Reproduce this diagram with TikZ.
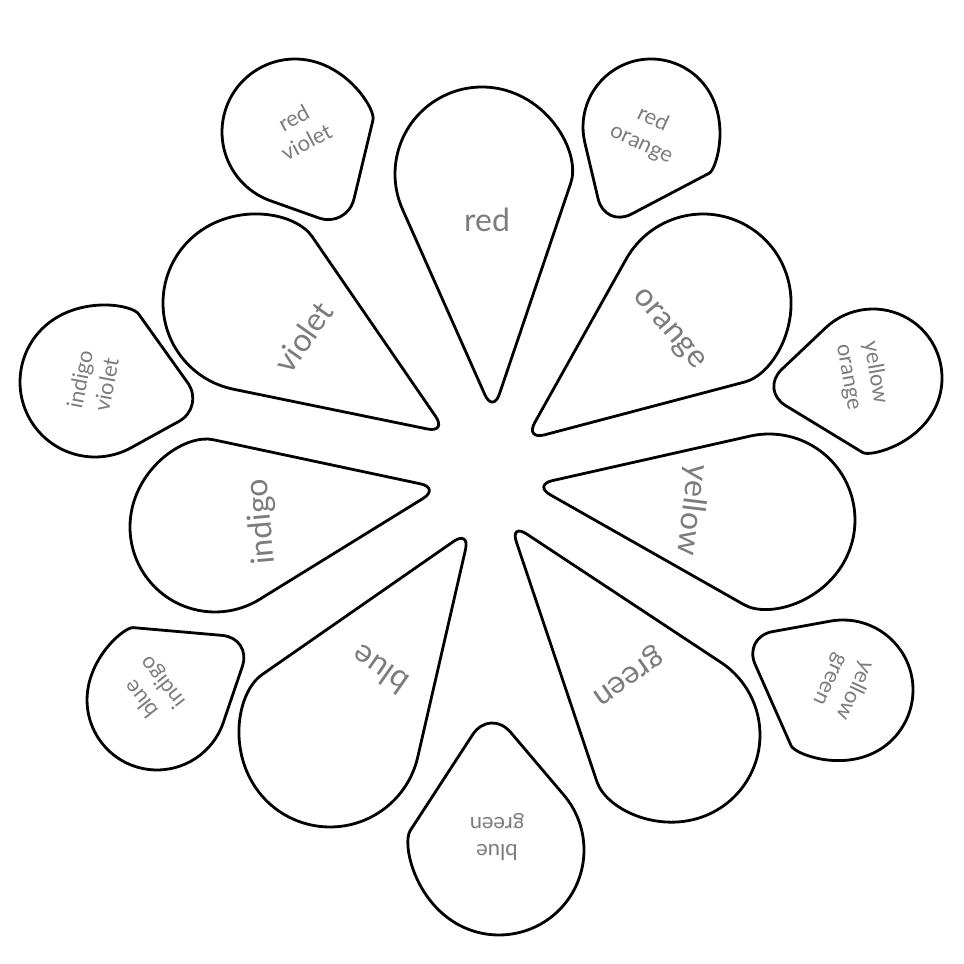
\documentclass[tikz,border=0pt]{standalone}
\usepackage{fontspec}
\setmainfont{Lato}
\definecolor{labelgray}{HTML}{7C7C7C}

\tikzset{
    petal/.style={draw=black, line width=1.4pt, line join=round},
    bigname/.style={text=labelgray, font=\fontsize{16}{19}\selectfont, inner sep=0pt},
    smallname/.style={text=labelgray, font=\fontsize{11}{13.5}\selectfont, align=center, inner sep=0pt},
}

\begin{document}
\begin{tikzpicture}[x=0.5pt, y=0.5pt]
    \useasboundingbox (0,0) rectangle (964,964);
    % petals: tip x / tip y / centre x / centre y / radius / tip rounding
    \foreach \tx/\ty/\cx/\cy/\rad/\rc in {
        493/551/482/790/87/10, 525/524/703/662/88/10, 533/479/769/444/86/10,
        510/441/673/229/87/10, 470/434/330/227/90/10, 440/476/215/437/85/10,
        447/531/251/661/88/10,
        605/736/651/837/68/15, 760/574/873/586/69/15, 743/327/843/274/70/15,
        490/256/499/114/85/16, 252/326/157/264/70/15, 205/557/95/582/75/15,
        347/736/295/832/73/15} {
        \pgfmathsetmacro\ang{atan2(\cy-\ty,\cx-\tx)}
        \pgfmathsetmacro\dist{veclen(\cx-\tx,\cy-\ty)}
        \pgfmathsetmacro\tang{acos(\rad/\dist)}
        \pgfmathsetmacro\px{\dist-\rad*cos(\tang)}
        \pgfmathsetmacro\py{\rad*sin(\tang)}
        \draw[petal, shift={(\tx,\ty)}, rotate=\ang]
            (\px,\py) [rounded corners=\rc pt] -- (0,0) -- (\px,-\py) [sharp corners]
            arc[start angle=\tang-180, end angle=180-\tang, radius=\rad] -- cycle;
    }
    % big petals
    \node[bigname, rotate=0]   (red)    at (487,744) {red};
    \node[bigname, rotate=-50] (orange) at (668,634) {orange};
    \node[bigname, rotate=-97] (yellow) at (692,454) {yellow};
    \node[bigname, rotate=215] (green)  at (627,289) {green};
    \node[bigname, rotate=145] (blue)   at (380,294) {blue};
    \node[bigname, rotate=95]  (indigo) at (262,442) {indigo};
    \node[bigname, rotate=55]  (violet) at (303,627) {violet};
    % small petals
    \node[smallname, rotate=-25]  (redorange)    at (647,832) {red\\orange};
    \node[smallname, rotate=-80]  (yelloworange) at (862,589) {yellow\\orange};
    \node[smallname, rotate=-115] (yellowgreen)  at (843,279) {yellow\\green};
    \node[smallname, rotate=180]  (bluegreen)    at (497,127) {blue\\green};
    \node[smallname, rotate=128]  (blueindigo)   at (153,274) {blue\\indigo};
    \node[smallname, rotate=79]   (indigoviolet) at (93,582)  {indigo\\violet};
    \node[smallname, rotate=28]   (redviolet)    at (300,834) {red\\violet};
\end{tikzpicture}
\end{document}
